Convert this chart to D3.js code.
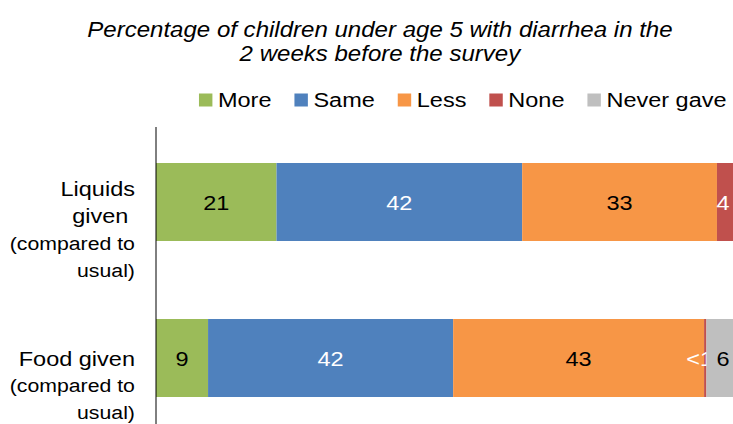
<!DOCTYPE html>
<html>
<head>
    <title>Diarrhea feeding chart</title>
    <script src="https://d3js.org/d3.v7.min.js"></script>
    <style>
        body { margin: 0; background: #fff; }
        svg { display: block; font-family: "Liberation Sans", Arial, sans-serif; }
    </style>
</head>
<body>
<svg></svg>
<script>
    const categories = ["Liquids given", "Food given"];
    const categoryLines = [
        ["Liquids", "given ", "(compared to", "usual)"],
        ["Food given", "(compared to", "usual)"]
    ];
    const series = ["More", "Same", "Less", "None", "Never gave"];
    const more = [20.6, 8.9];
    const same = [42.0, 41.9];
    const less = [33.3, 42.9];
    const none = [4.1, 0.4];
    const neverGave = [0, 5.9];
    const titleLines = ["Percentage of children under age 5 with diarrhea in the", "2 weeks before the survey"];

    const colors = ["#9BBB59", "#4F81BD", "#F79646", "#C0504D", "#BFBFBF"];
    const labelColors = ["#000", "#fff", "#000", "#fff", "#000"];

    const width = 733, height = 424;
    // the reference is stretched sideways, so draw in a narrower box and stretch it
    const vbWidth = 655;

    const rows = categories.map((c, i) => ({
        category: c,
        "More": more[i], "Same": same[i], "Less": less[i], "None": none[i], "Never gave": neverGave[i]
    }));

    const svg = d3.select("svg")
        .attr("width", width)
        .attr("height", height)
        .attr("viewBox", `0 0 ${vbWidth} ${height}`)
        .attr("preserveAspectRatio", "none");

    const x = d3.scaleLinear().domain([0, 100]).range([139.4, 662.1]);
    const y = d3.scaleBand().domain(categories).range([124, 436])
        .paddingInner(0.5).paddingOuter(0.25);

    const stacked = d3.stack().keys(series)(rows);

    // title
    svg.append("g").selectAll("text")
        .data(titleLines)
        .enter().append("text")
        .attr("x", 339.5)
        .attr("y", (d, i) => 37 + i * 24)
        .attr("text-anchor", "middle")
        .style("font-size", "21.5px")
        .style("font-style", "italic")
        .text(d => d);

    // legend
    const legend = svg.append("g");
    let lx = 177.8;
    series.forEach((s, i) => {
        legend.append("rect")
            .attr("x", lx).attr("y", 93.5)
            .attr("width", 12).attr("height", 13)
            .attr("fill", colors[i]);
        const t = legend.append("text")
            .attr("x", lx + 17).attr("y", 107)
            .style("font-size", "21px")
            .text(s);
        lx += 17 + t.node().getComputedTextLength() + 20.5;
    });

    // bars
    const layers = svg.append("g").selectAll("g")
        .data(stacked)
        .enter().append("g")
        .attr("fill", (d, i) => colors[i]);

    layers.selectAll("rect")
        .data(d => d.map(v => ({v, key: d.key})))
        .enter().append("rect")
        .attr("x", d => x(d.v[0]))
        .attr("y", d => y(d.v.data.category))
        .attr("width", d => x(d.v[1]) - x(d.v[0]))
        .attr("height", y.bandwidth());

    const rightLimit = vbWidth - 3;
    layers.selectAll("text")
        .data((d, i) => d.map(v => ({v, i})))
        .enter().append("text")
        .attr("y", d => y(d.v.data.category) + y.bandwidth() / 2)
        .attr("dy", "0.36em")
        .attr("fill", d => labelColors[d.i])
        .style("font-size", "21px")
        .text(d => {
            const v = d.v[1] - d.v[0];
            if (v <= 0) return "";
            return v < 1 ? "<1" : Math.round(v);
        })
        .each(function(d) {
            const v = d.v[1] - d.v[0];
            const t = d3.select(this);
            if (v > 0 && v < 1) {
                // tiny slice: label sits just past the slice end
                t.attr("text-anchor", "end").attr("x", x(d.v[1]) + 6);
                return;
            }
            const w = this.getComputedTextLength();
            const cx = Math.min((x(d.v[0]) + x(d.v[1])) / 2, rightLimit - w / 2);
            t.attr("text-anchor", "middle").attr("x", cx);
        });

    // axis line
    svg.append("line")
        .attr("x1", x(0)).attr("x2", x(0))
        .attr("y1", 127).attr("y2", height)
        .attr("stroke", "#000")
        .attr("stroke-width", 1)
        .attr("vector-effect", "non-scaling-stroke");

    // category labels
    const cats = svg.append("g").selectAll("g")
        .data(categories)
        .enter().append("g");

    cats.each(function(c, ci) {
        const lines = categoryLines[ci];
        const mid = y(c) + y.bandwidth() / 2 + 27;
        d3.select(this).selectAll("text")
            .data(lines)
            .enter().append("text")
            .attr("x", 120.6)
            .attr("y", (d, i) => mid + (i - (lines.length - 1) / 2) * 26.7 + 7.5)
            .attr("text-anchor", "end")
            .style("white-space", "pre")
            .style("font-size", d => d.startsWith("(") || d === "usual)" ? "19px" : "21px")
            .text(d => d);
    });
</script>
</body>
</html>
